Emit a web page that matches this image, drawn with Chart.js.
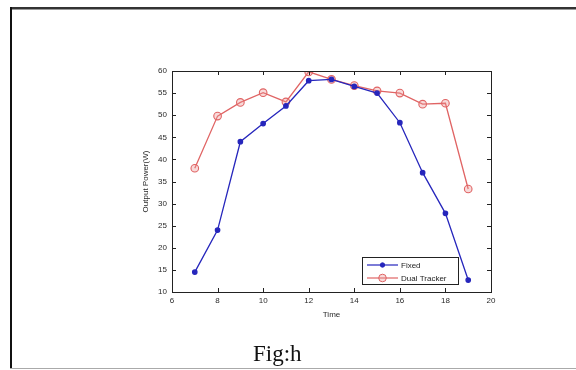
<!DOCTYPE html>
<html>
<head>
<meta charset="utf-8">
<script src="https://cdn.jsdelivr.net/npm/chart.js@4"></script>
<style>
  html, body { margin: 0; padding: 0; background: #fff; }
  body { width: 576px; height: 370px; position: relative; overflow: hidden; }
  #wrap { position: absolute; left: 0; top: 0; width: 576px; height: 370px; }
  #frameTop { position: absolute; left: 10px; top: 7px; width: 566px; height: 2px; background: #333; border-bottom: 1px solid #999; }
  #frameLeft { position: absolute; left: 10px; top: 7px; width: 2px; height: 362px; background: #111; }
  #frameBottom { position: absolute; left: 10px; top: 368px; width: 566px; height: 1px; background: #aaa; }
  #caption { position: absolute; left: 253px; top: 342px; font-family: "Liberation Serif", "Times New Roman", serif; font-size: 23px; color: #111; line-height: 1; }
</style>
</head>
<body>
<div id="wrap"><canvas id="c" width="576" height="370"></canvas></div>
<div id="frameTop"></div>
<div id="frameLeft"></div>
<div id="frameBottom"></div>
<div id="caption">Fig:h</div>
<script>
const times = [7, 8, 9, 10, 11, 12, 13, 14, 15, 16, 17, 18, 19];
const fixedPower = [14.5, 24, 44, 48.1, 52.1, 57.8, 58.1, 56.5, 55, 48.3, 37, 27.8, 12.7];
const dualTrackerPower = [38, 49.8, 52.9, 55.1, 53, 59.8, 58.1, 56.7, 55.5, 55, 52.5, 52.7, 33.3];
const xTicks = [6, 8, 10, 12, 14, 16, 18, 20];
const yTicks = [10, 15, 20, 25, 30, 35, 40, 45, 50, 55, 60];
const seriesNames = ["Fixed", "Dual Tracker"];

const toPts = (xs, ys) => xs.map((x, i) => ({ x: x, y: ys[i] }));

const blue = '#2626bc';
const red = '#e06464';
const fontFam = '"Liberation Sans", Arial, sans-serif';

const matlabBox = {
  id: 'matlabBox',
  afterDraw(chart) {
    const ctx = chart.ctx;
    const a = chart.chartArea;
    const xs = chart.scales.x, ys = chart.scales.y;
    ctx.save();
    ctx.strokeStyle = '#222';
    ctx.lineWidth = 1;
    ctx.strokeRect(Math.round(a.left) + 0.5, Math.round(a.top) + 0.5, Math.round(a.right - a.left), Math.round(a.bottom - a.top));
    const tl = 4;
    ctx.beginPath();
    xTicks.forEach(v => {
      const px = Math.round(xs.getPixelForValue(v)) + 0.5;
      ctx.moveTo(px, a.bottom); ctx.lineTo(px, a.bottom - tl);
      ctx.moveTo(px, a.top); ctx.lineTo(px, a.top + tl);
    });
    yTicks.forEach(v => {
      const py = Math.round(ys.getPixelForValue(v)) + 0.5;
      ctx.moveTo(a.left, py); ctx.lineTo(a.left + tl, py);
      ctx.moveTo(a.right, py); ctx.lineTo(a.right - tl, py);
    });
    ctx.stroke();

    // legend box (inside axes, lower right)
    const lx = 362, ly = 257, lw = 96, lh = 27;
    ctx.fillStyle = '#fff';
    ctx.fillRect(lx, ly, lw, lh);
    ctx.strokeStyle = '#222';
    ctx.strokeRect(lx + 0.5, ly + 0.5, lw, lh);
    ctx.font = '8px ' + fontFam;
    ctx.textBaseline = 'middle';
    chart.data.datasets.forEach((ds, i) => {
      const y = ly + 8 + i * 13;
      ctx.strokeStyle = ds.borderColor;
      ctx.lineWidth = 1.2;
      ctx.beginPath(); ctx.moveTo(367, y); ctx.lineTo(398, y); ctx.stroke();
      ctx.beginPath();
      ctx.arc(382.5, y, ds.pointRadius, 0, Math.PI * 2);
      ctx.fillStyle = ds.pointBackgroundColor;
      ctx.fill();
      ctx.lineWidth = 1;
      ctx.stroke();
      ctx.fillStyle = '#222';
      ctx.fillText(ds.label, 401, y + 0.5);
    });
    ctx.restore();
  }
};

new Chart(document.getElementById('c'), {
  type: 'line',
  data: {
    datasets: [
      {
        label: seriesNames[0],
        data: toPts(times, fixedPower),
        borderColor: blue,
        backgroundColor: blue,
        pointBackgroundColor: blue,
        pointBorderColor: blue,
        pointRadius: 2.2,
        borderWidth: 1.3,
        tension: 0
      },
      {
        label: seriesNames[1],
        data: toPts(times, dualTrackerPower),
        borderColor: red,
        backgroundColor: 'rgba(235,150,150,0.35)',
        pointBackgroundColor: 'rgba(235,150,150,0.35)',
        pointBorderColor: red,
        pointRadius: 3.8,
        pointBorderWidth: 1.1,
        borderWidth: 1.3,
        tension: 0
      }
    ]
  },
  options: {
    responsive: false,
    animation: false,
    events: [],
    layout: { padding: { left: 141, right: 85, top: 71, bottom: 50 } },
    plugins: { legend: { display: false }, tooltip: { enabled: false } },
    scales: {
      x: {
        type: 'linear',
        min: 6, max: 20,
        afterBuildTicks: s => { s.ticks = xTicks.map(v => ({ value: v })); },
        afterFit: s => { s.height = 28; s.paddingLeft = 0; s.paddingRight = 0; },
        grid: { display: false, drawTicks: false },
        border: { display: false },
        ticks: { color: '#2a2a2a', font: { size: 8, family: fontFam }, padding: 4, maxRotation: 0, autoSkip: false },
        title: { display: true, text: 'Time', color: '#2a2a2a', font: { size: 8, family: fontFam }, padding: { top: 3, bottom: 0 } }
      },
      y: {
        type: 'linear',
        min: 10, max: 60,
        afterBuildTicks: s => { s.ticks = yTicks.map(v => ({ value: v })); },
        afterFit: s => { s.width = 31; s.paddingTop = 0; s.paddingBottom = 0; },
        grid: { display: false, drawTicks: false },
        border: { display: false },
        ticks: { color: '#2a2a2a', font: { size: 8, family: fontFam }, padding: 5, autoSkip: false },
        title: { display: true, text: 'Output Power(W)', color: '#2a2a2a', font: { size: 8, family: fontFam }, padding: { top: 0, bottom: 0 } }
      }
    }
  },
  plugins: [matlabBox]
});
</script>
</body>
</html>
